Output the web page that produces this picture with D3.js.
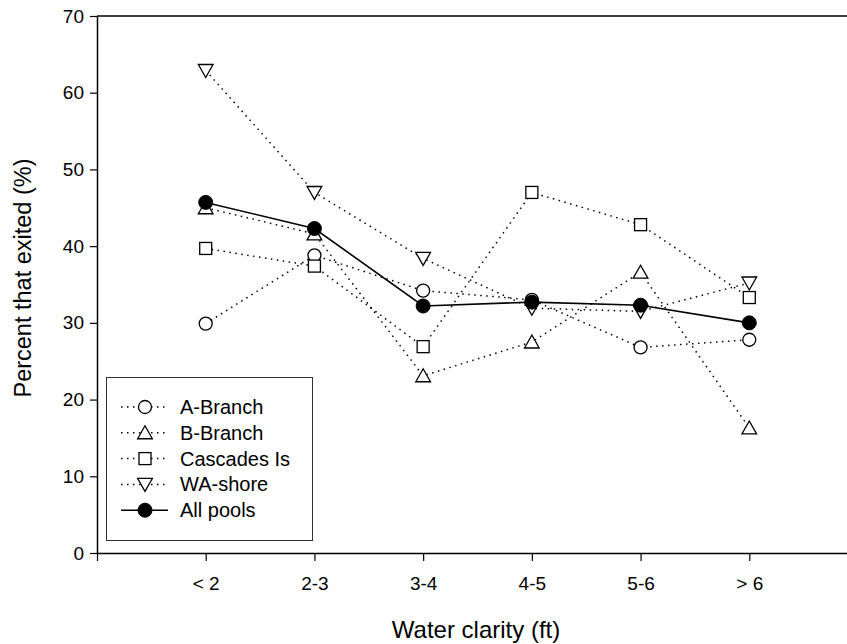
<!DOCTYPE html>
<html>
<head>
<meta charset="utf-8">
<script src="https://cdn.jsdelivr.net/npm/d3@7"></script>
<style>
  body { margin: 0; background: #fff; }
  svg { display: block; font-family: "Liberation Sans", Arial, sans-serif; }
</style>
</head>
<body>
<svg id="chart" width="847" height="644"></svg>
<script>
const categories = ["< 2", "2-3", "3-4", "4-5", "5-6", "> 6"];
const aBranch   = [29.9, 38.8, 34.2, 33.0, 26.8, 27.8];
const bBranch   = [45.0, 41.6, 23.1, 27.5, 36.6, 16.3];
const cascades  = [39.7, 37.4, 26.9, 47.0, 42.8, 33.3];
const waShore   = [62.9, 47.0, 38.4, 31.9, 31.5, 35.2];
const allPools  = [45.7, 42.3, 32.2, 32.7, 32.3, 30.0];
const yTicks = [0, 10, 20, 30, 40, 50, 60, 70];
const seriesNames = ["A-Branch", "B-Branch", "Cascades Is", "WA-shore", "All pools"];
const seriesSymbols = ["circle", "triUp", "square", "triDown", "filled"];

const series = [aBranch, bBranch, cascades, waShore, allPools].map((v, i) => ({
  name: seriesNames[i], values: v, sym: seriesSymbols[i]
}));

const svg = d3.select("#chart");
const plotLeft = 97, plotTop = 16, plotBottom = 553;
const x = d3.scaleLinear().domain([0, 7]).range([plotLeft, 858]);
const y = d3.scaleLinear().domain([0, 70]).range([plotBottom, plotTop]);

// frame top line
svg.append("line").attr("x1", plotLeft).attr("x2", 860).attr("y1", plotTop).attr("y2", plotTop)
  .attr("stroke", "#000").attr("stroke-width", 1.5);

// axes
const xAxis = d3.axisBottom(x).tickValues([0, 1, 2, 3, 4, 5, 6, 7])
  .tickFormat(d => (d >= 1 && d <= 6) ? categories[d - 1] : "")
  .tickSizeInner(8).tickSizeOuter(0).tickPadding(16);
const gx = svg.append("g").attr("transform", `translate(0,${plotBottom})`).call(xAxis);
const yAxis = d3.axisLeft(y).tickValues(yTicks).tickSizeInner(7).tickSizeOuter(0).tickPadding(6);
const gy = svg.append("g").attr("transform", `translate(${plotLeft},0)`).call(yAxis);
[gx, gy].forEach(g => {
  g.selectAll(".domain").attr("stroke", "#000").attr("stroke-width", 1.5);
  g.selectAll(".tick line").attr("stroke", "#000").attr("stroke-width", 1.2);
  g.selectAll("text").attr("font-size", 19).attr("fill", "#000")
    .attr("font-family", '"Liberation Sans", Arial, sans-serif');
});

// axis titles
svg.append("text").attr("x", 476).attr("y", 638).attr("text-anchor", "middle")
  .attr("font-size", 24).text("Water clarity (ft)");
svg.append("text").attr("transform", "translate(31,278) rotate(-90)")
  .attr("text-anchor", "middle").attr("font-size", 23.5).text("Percent that exited (%)");

// symbol drawer
function drawSymbol(g, sym, cx, cy) {
  if (sym === "circle") {
    g.append("circle").attr("cx", cx).attr("cy", cy).attr("r", 6.5)
      .attr("fill", "#fff").attr("stroke", "#000").attr("stroke-width", 1.3);
  } else if (sym === "filled") {
    g.append("circle").attr("cx", cx).attr("cy", cy).attr("r", 7)
      .attr("fill", "#000").attr("stroke", "#000").attr("stroke-width", 1);
  } else if (sym === "square") {
    g.append("rect").attr("x", cx - 6).attr("y", cy - 6).attr("width", 12).attr("height", 12)
      .attr("fill", "#fff").attr("stroke", "#000").attr("stroke-width", 1.3);
  } else if (sym === "triUp") {
    const s = 7;
    g.append("path").attr("d", `M${cx},${cy - s}L${cx + s * 1.05},${cy + s * 0.85}L${cx - s * 1.05},${cy + s * 0.85}Z`)
      .attr("fill", "#fff").attr("stroke", "#000").attr("stroke-width", 1.3);
  } else if (sym === "triDown") {
    const s = 7;
    g.append("path").attr("d", `M${cx},${cy + s}L${cx + s * 1.05},${cy - s * 0.85}L${cx - s * 1.05},${cy - s * 0.85}Z`)
      .attr("fill", "#fff").attr("stroke", "#000").attr("stroke-width", 1.3);
  }
}

const line = d3.line().x((d, i) => x(i + 1)).y(d => y(d));

// lines
series.forEach(s => {
  svg.append("path").datum(s.values).attr("d", line).attr("fill", "none")
    .attr("stroke", "#000")
    .attr("stroke-width", s.sym === "filled" ? 1.6 : 1.5)
    .attr("stroke-dasharray", s.sym === "filled" ? null : "1.5,4.5");
});
// markers
series.forEach(s => {
  const g = svg.append("g");
  s.values.forEach((v, i) => drawSymbol(g, s.sym, x(i + 1), y(v)));
});

// legend
const lg = svg.append("g");
lg.append("rect").attr("x", 106.5).attr("y", 377.5).attr("width", 206).attr("height", 163)
  .attr("fill", "#fff").attr("stroke", "#333").attr("stroke-width", 1);
series.forEach((s, i) => {
  const cy = 407 + i * 25.8;
  lg.append("line").attr("x1", 121).attr("x2", 168).attr("y1", cy).attr("y2", cy)
    .attr("stroke", "#000").attr("stroke-width", s.sym === "filled" ? 1.6 : 1.5)
    .attr("stroke-dasharray", s.sym === "filled" ? null : "1.5,4.5");
  drawSymbol(lg, s.sym, 145, cy);
  lg.append("text").attr("x", 180).attr("y", cy + 7).attr("font-size", 20).text(s.name);
});
</script>
</body>
</html>
